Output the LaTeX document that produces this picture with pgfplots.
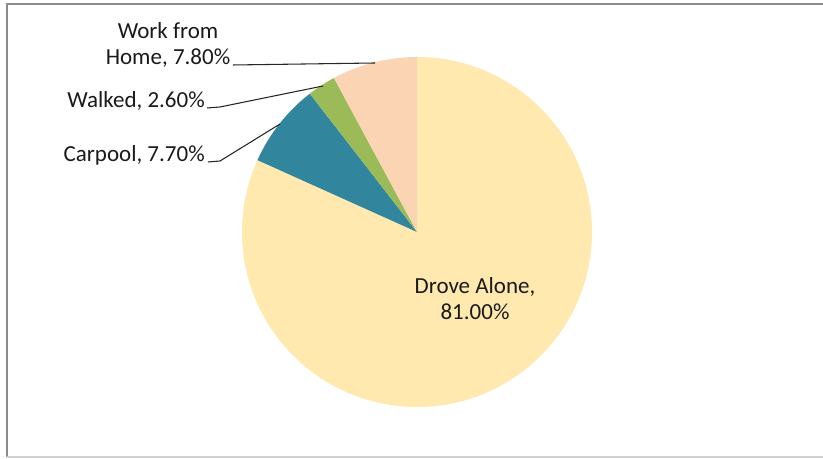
\documentclass[border=0pt]{standalone}
\usepackage{pgfplots}
\pgfplotsset{compat=1.18}
\usepackage{pgfplotstable}
\usepackage{fontspec}
\setmainfont{Carlito}

\definecolor{drove}{HTML}{FFE9AF}
\definecolor{carpool}{HTML}{31859C}
\definecolor{walked}{HTML}{9BBB59}
\definecolor{wfh}{HTML}{FBD4B4}
\definecolor{frameA}{HTML}{8C8C8C}
\definecolor{frameB}{HTML}{D0D0D0}
\definecolor{txt}{HTML}{1A1A1A}

% share of commuters by mode, %
\pgfplotstableread{
mode pct
Drove 81.0
Carpool 7.7
Walked 2.6
Home 7.8
}\modes

\begin{document}
\begin{tikzpicture}[x=0.75pt,y=0.75pt,font=\fontsize{17.25}{19.5}\selectfont]
\pgfplotstablegetelem{0}{pct}\of\modes \let\pA\pgfplotsretval
\pgfplotstablegetelem{1}{pct}\of\modes \let\pB\pgfplotsretval
\pgfplotstablegetelem{2}{pct}\of\modes \let\pC\pgfplotsretval
\pgfplotstablegetelem{3}{pct}\of\modes \let\pD\pgfplotsretval
\pgfmathsetmacro\tot{\pA+\pB+\pC+\pD}
\pgfmathsetmacro\eA{90-360*(\pA/\tot)}
\pgfmathsetmacro\eB{\eA-360*(\pB/\tot)}
\pgfmathsetmacro\eC{\eB-360*(\pC/\tot)}
\def\R{131.25pt}
\begin{axis}[
    at={(0,0)}, anchor=south west,
    scale only axis, width=617.25pt, height=344.25pt,
    xmin=0, xmax=823, ymin=0, ymax=459,
    hide axis, clip=true,
]
% frame (right side is cut off in the reference)
\draw[frameA, line width=1.5pt] (axis cs:840,455) -- (axis cs:7,455) -- (axis cs:7,2);
\draw[frameB, line width=1pt] (axis cs:7,2) -- (axis cs:840,2);

% slices, clockwise from 12 o'clock
\fill[drove]   (axis cs:417,227) -- ++(90:\R)  arc[start angle=90,  end angle=\eA,  radius=\R] -- cycle;
\fill[carpool] (axis cs:417,227) -- ++(\eA:\R) arc[start angle=\eA, end angle=\eB,  radius=\R] -- cycle;
\fill[walked]  (axis cs:417,227) -- ++(\eB:\R) arc[start angle=\eB, end angle=\eC,  radius=\R] -- cycle;
\fill[wfh]     (axis cs:417,227) -- ++(\eC:\R) arc[start angle=\eC, end angle=-270, radius=\R] -- cycle;

% leader lines
\draw[black!85, line width=0.8pt] (axis cs:233,394) -- (axis cs:375,396);
\draw[black!85, line width=0.8pt] (axis cs:207,351) -- (axis cs:220,352) -- (axis cs:323,373);
\draw[black!85, line width=0.8pt] (axis cs:208,297) -- (axis cs:220,298) -- (axis cs:280,335);

% data labels
\node[align=center, text=txt] at (axis cs:168,414) {Work from\\Home, 7.80\%};
\node[anchor=east, inner sep=0pt, text=txt] at (axis cs:205,358) {Walked, 2.60\%};
\node[anchor=east, inner sep=0pt, text=txt] at (axis cs:205,304) {Carpool, 7.70\%};
\node[align=center, text=txt] at (axis cs:475,160) {Drove Alone,\\81.00\%};
\end{axis}
\pgfresetboundingbox
\useasboundingbox (0,0) rectangle (823,459);
\end{tikzpicture}
\end{document}
